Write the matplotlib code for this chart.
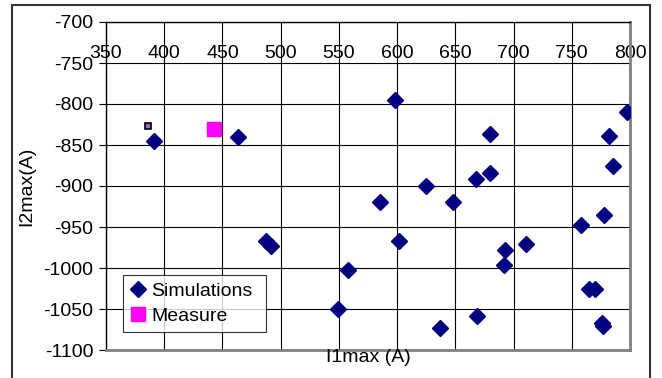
import matplotlib.pyplot as plt
from matplotlib.patches import Rectangle

plt.rcParams['font.family'] = ['Liberation Sans', 'DejaVu Sans']
plt.rcParams['axes.unicode_minus'] = False

# simulation points (I1max, I2max)
sim_i1 = [391, 463, 598, 680, 782, 797, 785, 680, 668, 625, 585, 648,
          758, 778, 602, 693, 711, 692, 558, 549, 637, 669, 765, 770,
          776, 777, 487, 492]
sim_i2 = [-845, -840, -795, -837, -839, -810, -875, -884, -892, -900, -919, -919,
          -947, -935, -967, -978, -971, -996, -1002, -1050, -1073, -1059, -1025, -1025,
          -1067, -1071, -967, -973]

meas_i1 = [443]
meas_i2 = [-830]

# small stray marker near the top left
extra_i1 = [386]
extra_i2 = [-827]

xticks = [350, 400, 450, 500, 550, 600, 650, 700, 750, 800]
yticks = [-1100, -1050, -1000, -950, -900, -850, -800, -750, -700]

fig = plt.figure(figsize=(6.62, 3.78), dpi=100)
ax = fig.add_axes([106/662, 1-350/378, 524/662, 328/378])

ax.plot(sim_i1, sim_i2, ls='none', marker='D', ms=8.5, color='#000080',
        label='Simulations', zorder=3)
ax.plot(meas_i1, meas_i2, ls='none', marker='s', ms=10.5, color='#ff00ff',
        label='Measure', zorder=3)
ax.plot(extra_i1, extra_i2, ls='none', marker='s', ms=5, mfc='#9966cc',
        mec='black', mew=1.2, zorder=3)

ax.set_xlim(350, 800)
ax.set_ylim(-1100, -700)
ax.set_xticks(xticks)
ax.set_yticks(yticks)
ax.grid(True, color='black', lw=0.8)
ax.set_axisbelow(True)

ax.tick_params(axis='x', bottom=False, labelbottom=False, top=True, labeltop=True,
               direction='in', length=0, pad=-29, labelsize=14)
ax.tick_params(axis='y', direction='out', length=5, width=0.8, labelsize=14, pad=4)

for s in ['top', 'left']:
    ax.spines[s].set_color('black')
    ax.spines[s].set_linewidth(1.0)
for s in ['right', 'bottom']:
    ax.spines[s].set_color('#808080')
    ax.spines[s].set_linewidth(2.0)

fig.text(368/662, 1-358/378, 'I1max (A)', ha='center', va='center', fontsize=14)
fig.text(27/662, 1-186/378, 'I2max(A)', ha='center', va='center', rotation=90, fontsize=14)

leg = ax.legend(loc='lower left', bbox_to_anchor=(17/524, 18/328, 143/524, 65/328),
                mode='expand', borderaxespad=0, fontsize=14, frameon=True,
                fancybox=False, handlelength=0.8, handletextpad=0.3,
                borderpad=0.35, labelspacing=0.4)
leg.get_frame().set_edgecolor('black')
leg.get_frame().set_linewidth(0.8)

fig.patches.append(Rectangle((12/662, -0.02), 638/662, 1.02 - 5/378,
                             transform=fig.transFigure, fill=False,
                             edgecolor='#333333', lw=1.5))

plt.savefig('out.png', dpi=100)
